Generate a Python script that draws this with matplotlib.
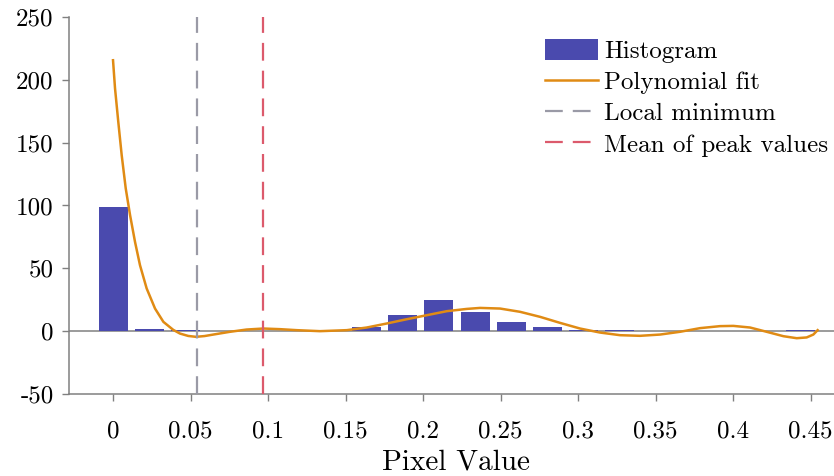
import numpy as np
import matplotlib
matplotlib.use('Agg')
import matplotlib.pyplot as plt

plt.rcParams['font.family'] = ['cmr10', 'DejaVu Serif']
plt.rcParams['axes.unicode_minus'] = False
plt.rcParams['axes.formatter.use_mathtext'] = True

# histogram (bin centres are k * bin_w)
bin_w = 0.02336
counts = [99, 2, 1, 0, 0, 0, 0, 3, 13, 25, 15, 7, 3, 1, 1, 0, 0, 0, 0, 1]

# polynomial fit
fit_x = [0, 0.0013, 0.0034, 0.0056, 0.0082, 0.011, 0.0142, 0.0174, 0.0217, 0.0271,
         0.0325, 0.0389, 0.0432, 0.0485, 0.0535, 0.059, 0.0647, 0.0755, 0.0862, 0.097,
         0.1077, 0.1185, 0.1335, 0.1508, 0.1637, 0.1766, 0.1895, 0.2024, 0.2153, 0.2282,
         0.2368, 0.2497, 0.2626, 0.2755, 0.2884, 0.3013, 0.3142, 0.3271, 0.34, 0.3529,
         0.3658, 0.3787, 0.3916, 0.4002, 0.411, 0.4217, 0.4325, 0.4411, 0.4475, 0.4518,
         0.4546]
fit_y = [215.6, 193.1, 166.5, 140, 113.6, 92.3, 71, 52.5, 34, 18,
         7.4, 1.0, -1.9, -3.8, -4.5, -3.9, -2.7, -0.5, 1.3, 2.1,
         1.6, 0.8, 0, 0.8, 2.9, 6.1, 9.5, 12.7, 15.9, 17.7,
         18.5, 18, 15.4, 11.4, 6.6, 2.1, -1.1, -3.2, -3.7, -2.7,
         -0.5, 2.4, 4, 4.2, 2.9, -0.5, -4, -5.6, -5, -2.7,
         0.8]

local_min = 0.054
peak_mean = 0.0966

xticks = [0, 0.05, 0.1, 0.15, 0.2, 0.25, 0.3, 0.35, 0.4, 0.45]
xtick_labels = ['0', '0.05', '0.1', '0.15', '0.2', '0.25', '0.3', '0.35', '0.4', '0.45']
yticks = [-50, 0, 50, 100, 150, 200, 250]
ytick_labels = ['-50', '0', '50', '100', '150', '200', '250']

fig = plt.figure(figsize=(8.34, 4.76), dpi=100)
ax = fig.add_axes([69/834, 1-394/476, (844-69)/834, (394-17)/476])

centers = np.arange(len(counts)) * bin_w
h_bar = ax.bar(centers, counts, width=0.8*bin_w, color='#4a4aae', label='Histogram', zorder=2)
ax.axhline(0, color='#808080', lw=1.1, zorder=1)
h_fit, = ax.plot(fit_x, fit_y, color='#e08b14', lw=1.8, label='Polynomial fit', zorder=3)
h_min = ax.axvline(local_min, color='#9a9aa6', lw=1.6, dashes=(8, 4.5), label='Local minimum', zorder=4)
h_mean = ax.axvline(peak_mean, color='#dc5a6c', lw=1.6, dashes=(8, 4.5), label='Mean of peak values', zorder=4)

ax.set_xlim(-0.0284, 0.4716)
ax.set_ylim(-50, 250)
ax.set_xticks(xticks)
ax.set_xticklabels(xtick_labels)
ax.set_yticks(yticks)
ax.set_yticklabels(ytick_labels)
ax.tick_params(labelsize=18, direction='out', length=5, color='#808080', width=1)
ax.tick_params(axis='x', pad=14)
ax.tick_params(axis='y', pad=6)

for s in ['top', 'right']:
    ax.spines[s].set_visible(False)
for s in ['left', 'bottom']:
    ax.spines[s].set_color('#808080')
    ax.spines[s].set_linewidth(1.1)

ax.set_xlabel('Pixel Value', fontsize=21, labelpad=5)

ax.legend(handles=[h_bar, h_fit, h_min, h_mean],
          loc='upper left', bbox_to_anchor=(545/834, 1-39/476), bbox_transform=fig.transFigure,
          frameon=False, fontsize=18, handlelength=2.1, handleheight=0.9,
          handletextpad=0.25, labelspacing=0.29, borderpad=0, borderaxespad=0)

fig.savefig('out.png', dpi=100)
